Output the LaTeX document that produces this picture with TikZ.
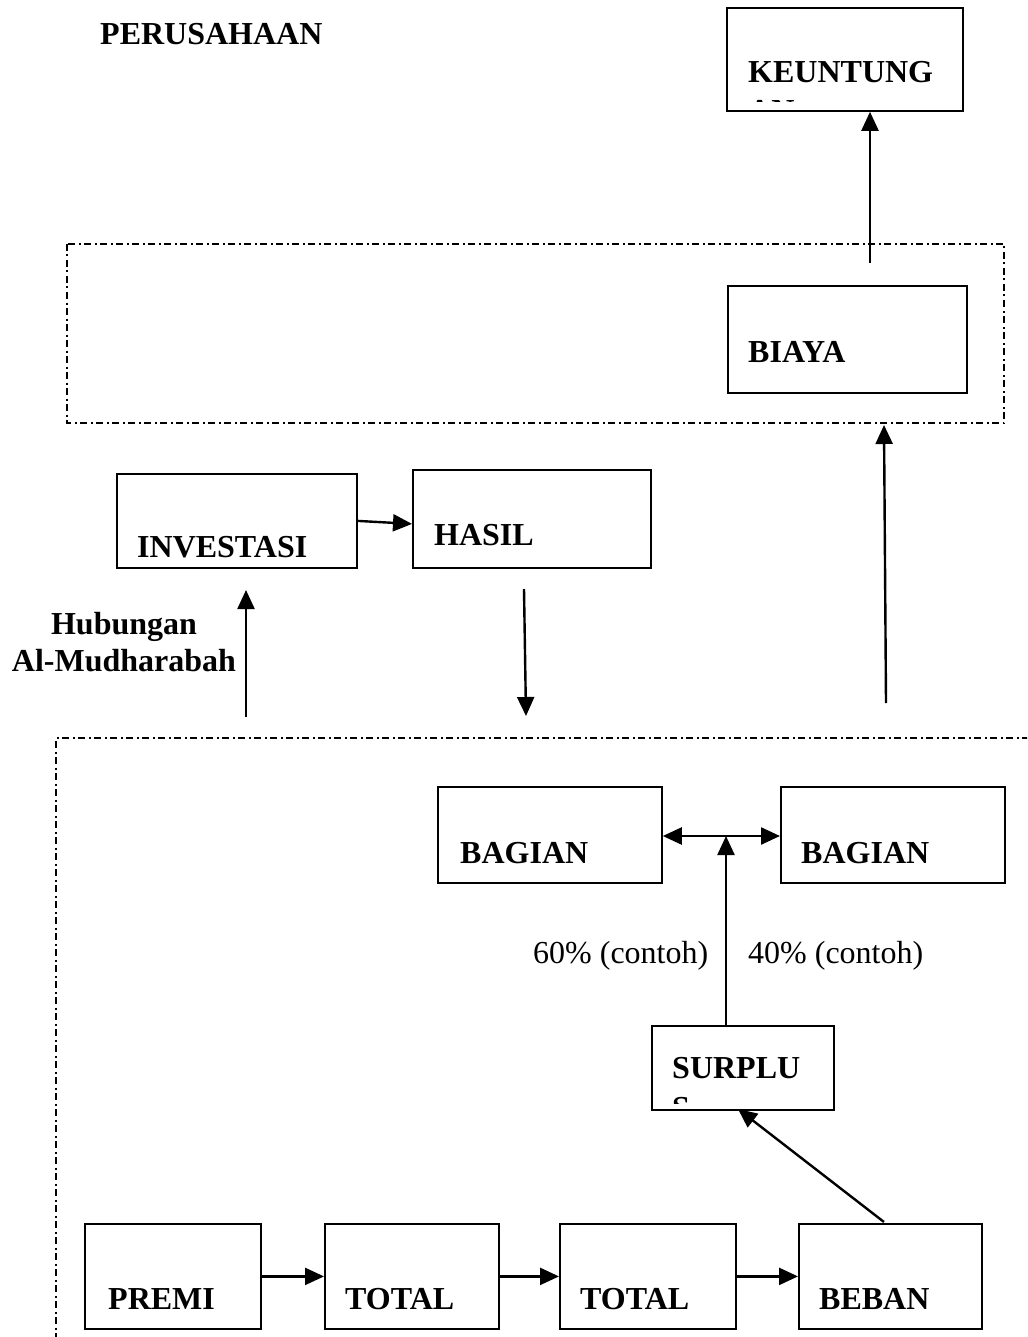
\documentclass[tikz,border=0pt]{standalone}
\usepackage{fontspec}
\setmainfont{Liberation Serif}
\usetikzlibrary{arrows.meta}
\begin{document}
\begin{tikzpicture}[x=1pt,y=-1pt,
  box/.style={draw,line width=1.8pt,minimum width=#1,inner sep=0pt,anchor=north west},
  lbl/.style={font=\fontsize{32}{38}\selectfont\bfseries,anchor=base west,inner sep=0pt},
  rlbl/.style={font=\fontsize{32}{38}\selectfont,anchor=base west,inner sep=0pt},
  arr/.style={line width=2.4pt,-{Triangle[length=19pt,width=17pt]}},
  dashbox/.style={line width=1.3pt,dash pattern=on 7pt off 3.5pt on 2pt off 3.5pt}]
\useasboundingbox (0,0) rectangle (1027,1337);
\clip (0,0) rectangle (1027,1337);

% title
\node[lbl] (per) at (100,45) {PERUSAHAAN};

% dash-dot frames
\draw[dashbox] (67,244) rectangle (1004,423);
\draw[dashbox] (1045,738) -- (56,738) -- (56,1350);

% top boxes
\node[box=236pt,minimum height=103pt] (keu) at (726,7) {};
\node[lbl] (keut) at (748,83) {KEUNTUNG};
\begin{scope}
  \clip (728,9) rectangle (960,102);
  \node[lbl] (keut2) at (748,122) {AN};
\end{scope}

\node[box=239pt,minimum height=107pt] (bia) at (727,285) {};
\node[lbl] (biat) at (748,362) {BIAYA};

\node[box=240pt,minimum height=94pt] (inv) at (116,473) {};
\node[lbl] (invt) at (137,557) {INVESTASI};
\node[box=238pt,minimum height=98pt] (has) at (412,469) {};
\node[lbl] (hast) at (434,545) {HASIL};

\node[lbl,anchor=base] (hub1) at (124,634) {Hubungan};
\node[lbl,anchor=base] (hub2) at (124,671) {Al-Mudharabah};

% lower section
\node[box=224pt,minimum height=96pt] (bag1) at (437,786) {};
\node[lbl] (bag1t) at (460,863) {BAGIAN};
\node[box=224pt,minimum height=96pt] (bag2) at (780,786) {};
\node[lbl] (bag2t) at (801,863) {BAGIAN};

\node[rlbl] (p60) at (533,963) {60\% (contoh)};
\node[rlbl] (p40) at (748,963) {40\% (contoh)};

\node[box=182pt,minimum height=84pt] (sur) at (651,1025) {};
\node[lbl] (surt) at (672,1078) {SURPLU};
\begin{scope}
  \clip (653,1027) rectangle (831,1103);
  \node[lbl] (surt2) at (672,1118) {S};
\end{scope}

\node[box=176pt,minimum height=105pt] (pre) at (84,1223) {};
\node[lbl] (pret) at (108,1309) {PREMI};
\node[box=174pt,minimum height=105pt] (tot1) at (324,1223) {};
\node[lbl] (tot1t) at (345,1309) {TOTAL};
\node[box=176pt,minimum height=105pt] (tot2) at (559,1223) {};
\node[lbl] (tot2t) at (580,1309) {TOTAL};
\node[box=183pt,minimum height=105pt] (beb) at (798,1223) {};
\node[lbl] (bebt) at (819,1309) {BEBAN};

% connector end points
\coordinate (c1) at (870,263);
\coordinate (c2) at (886,703);
\coordinate (c3) at (884,425);
\coordinate (c4) at (246,717);
\coordinate (c5) at (246,590);
\coordinate (c6) at (524,589);
\coordinate (c7) at (526,716);
\coordinate (c8) at (726,836);
\coordinate (c9) at (884,1222);
\coordinate (c10) at (738,1109);

% connectors
\draw[arr] (c1) -- (c1 |- keu.south);
\draw[arr] (c2) -- (c3);
\draw[arr] (c4) -- (c5);
\draw[arr] (inv.east) -- ([yshift=-5pt]has.west);
\draw[arr] (c6) -- (c7);
\draw[line width=2.4pt,{Triangle[length=19pt,width=17pt]}-{Triangle[length=19pt,width=17pt]}] (bag1.east |- c8) -- (bag2.west |- c8);
\draw[arr] (c8 |- sur.north) -- (c8);
\draw[arr] (c9) -- (c10);
\draw[arr] (pre.east) -- (tot1.west);
\draw[arr] (tot1.east) -- (tot2.west);
\draw[arr] (tot2.east) -- (beb.west);
\end{tikzpicture}
\end{document}
